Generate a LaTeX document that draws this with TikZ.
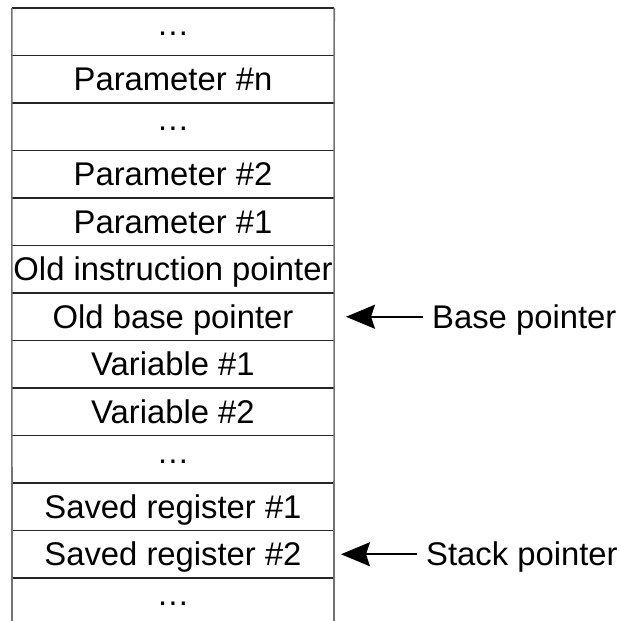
\documentclass[tikz,border=0pt]{standalone}
\usepackage{fontspec}
\setmainfont{Liberation Sans}
\usetikzlibrary{arrows.meta}
\newcommand{\midots}{\raisebox{7.5pt}{…}}
\begin{document}
\begin{tikzpicture}[x=1pt,y=-1pt,
  cell/.style={minimum width=322pt,minimum height=47.5pt,inner sep=0pt,
    font=\fontsize{32.8}{39}\selectfont,text height=23pt,text depth=0pt},
  lbl/.style={anchor=west,inner xsep=9pt,inner ysep=0pt,
    font=\fontsize{32.8}{39}\selectfont,text height=23pt,text depth=0pt},
  hline/.style={line width=1.6pt,draw=black!85},
  vline/.style={line width=1.6pt,draw=black!55},
  ptr/.style={line width=1.8pt,-{Stealth[length=29pt,width=24pt,inset=4pt]}}]
\useasboundingbox (0,0) rectangle (619,621);
\foreach \t [count=\i] in {\midots,Parameter \#n,\midots,Parameter \#2,Parameter \#1,
  Old instruction pointer,Old base pointer,Variable \#1,Variable \#2,\midots,
  Saved register \#1,Saved register \#2,\midots}{
  \node[cell] (r\i) at (173,{8+47.5*(\i-1)+23.75}) {\t};
}
\foreach \i in {1,...,13}{
  \draw[hline] (r\i.north west) -- (r\i.north east);
}
\draw[vline] (r1.north west) -- (12,621);
\draw[vline] (r1.north east) -- (334,621);
\node[lbl] (bp) at (423,316.75) {Base pointer};
\node[lbl] (sp) at (417,554.25) {Stack pointer};
\coordinate (bptip) at (346,316.75);
\coordinate (sptip) at (341,554.25);
\draw[ptr] (bp.west) -- (bptip);
\draw[ptr] (sp.west) -- (sptip);
\end{tikzpicture}
\end{document}
